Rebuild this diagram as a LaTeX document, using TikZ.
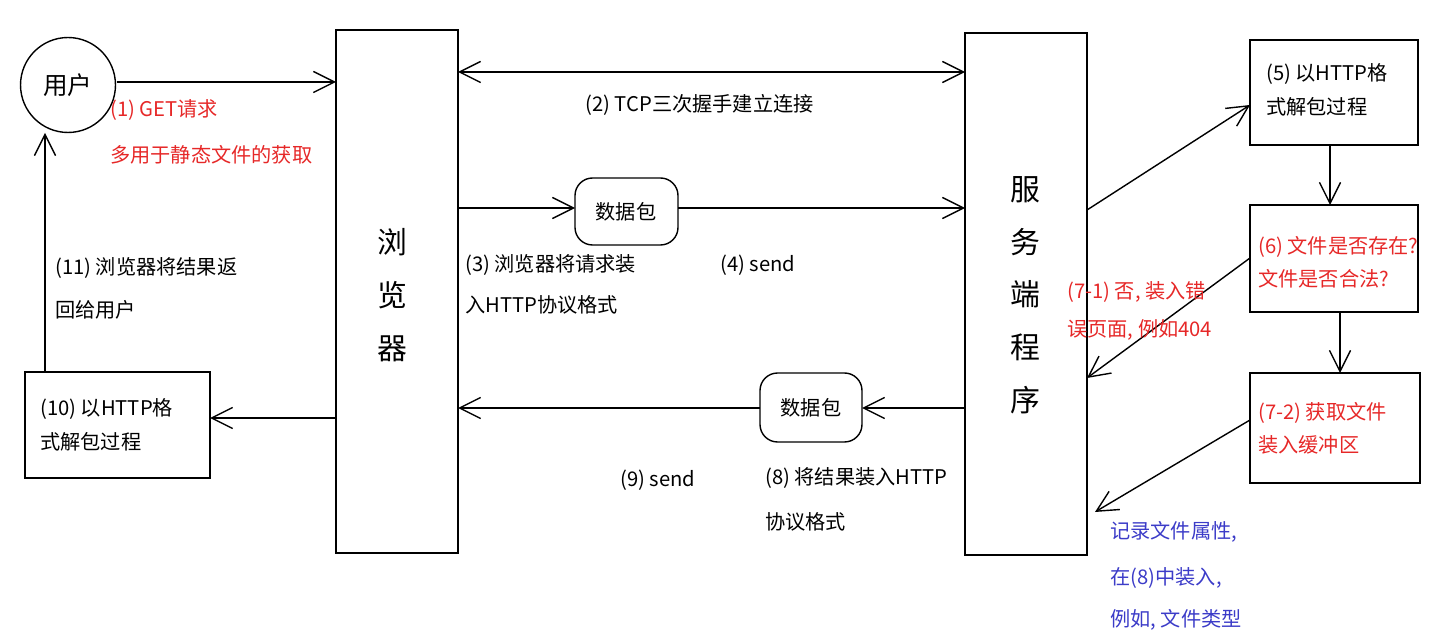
\documentclass[tikz,border=0pt]{standalone}
\usepackage{fontspec}
\setmainfont{Noto Sans CJK SC}
\usetikzlibrary{arrows.meta}
\definecolor{txtred}{RGB}{230,40,40}
\definecolor{txtblue}{RGB}{60,60,200}
\begin{document}
\begin{tikzpicture}
    [x=0.02cm, y=-0.02cm,
    every node/.style={font=\fontsize{11.5}{13}\selectfont},
    arr/.style={-{Straight Barb[length=12pt,width=12pt]}, thick},
    darr/.style={{Straight Barb[length=12pt,width=12pt]}-{Straight Barb[length=12pt,width=12pt]}, thick},
    txt/.style={anchor=west, inner sep=0pt},
    big/.style={font=\fontsize{17}{20}\selectfont}
    ]
    \useasboundingbox (0,0) rectangle (1453,641);

    % boxes
    \node[draw, thick, circle, minimum size=1.9cm, font=\fontsize{14}{16}\selectfont] (user) at (68,85) {用户};
    \draw[thick] (336,30) rectangle (458,553);
    \node[big, align=center] (brtxt) at (392,295) {浏\\[10pt]览\\[10pt]器};
    \draw[thick] (965,33) rectangle (1087,555);
    \node[big, align=center] (srv) at (1025,295) {服\\[10pt]务\\[10pt]端\\[10pt]程\\[10pt]序};
    \draw[thick] (1250,40) rectangle (1418,145);
    \node[txt, align=left] (p5) at (1266,90) {(5) 以HTTP格\\[6pt]式解包过程};
    \draw[thick] (1250,205) rectangle (1418,312);
    \node[txt, align=left, text=txtred] (p6) at (1258,262) {(6) 文件是否存在?\\[6pt]文件是否合法?};
    \draw[thick] (1250,373) rectangle (1420,483);
    \node[txt, align=left, text=txtred] (p72) at (1258,428) {(7-2) 获取文件\\[6pt]装入缓冲区};
    \draw[thick] (25,372) rectangle (210,478);
    \node[txt, align=left] (p10) at (40,425) {(10) 以HTTP格\\[6pt]式解包过程};
    \draw[thick, rounded corners=10pt] (575,178) rectangle (678,245);
    \node (pk1) at (626,212) {数据包};
    \draw[thick, rounded corners=10pt] (760,373) rectangle (862,442);
    \node (pk2) at (811,408) {数据包};

    % connectors
    \draw[arr] (117,82) -- (336,82);
    \draw[darr] (458,72) -- (965,72);
    \draw[arr] (458,208) -- (575,208);
    \draw[arr] (678,208) -- (965,208);
    \draw[arr] (965,408) -- (862,408);
    \draw[arr] (760,408) -- (458,408);
    \draw[arr] (336,418) -- (210,418);
    \draw[arr] (45,372) -- (45,133);
    \draw[arr] (1087,210) -- (1250,105);
    \draw[arr] (1330,145) -- (1330,205);
    \draw[arr] (1250,258) -- (1087,378);
    \draw[arr] (1340,312) -- (1340,373);
    \draw[arr] (1250,420) -- (1095,512);

    % labels
    \node[txt, text=txtred] at (110,110) {(1) GET请求};
    \node[txt, text=txtred] at (110,155) {多用于静态文件的获取};
    \node[txt] at (585,105) {(2) TCP三次握手建立连接};
    \node[txt] at (465,265) {(3) 浏览器将请求装};
    \node[txt] at (465,305) {入HTTP协议格式};
    \node[txt] at (720,265) {(4) send};
    \node[txt] at (55,268) {(11) 浏览器将结果返};
    \node[txt] at (55,310) {回给用户};
    \node[txt] at (620,480) {(9) send};
    \node[txt] at (765,478) {(8) 将结果装入HTTP};
    \node[txt] at (765,522) {协议格式};
    \node[txt, text=txtred] at (1067,292) {(7-1) 否, 装入错};
    \node[txt, text=txtred] at (1067,330) {误页面, 例如404};
    \node[txt, text=txtblue] at (1110,532) {记录文件属性,};
    \node[txt, text=txtblue] at (1110,578) {在(8)中装入,};
    \node[txt, text=txtblue] at (1110,620) {例如, 文件类型};
\end{tikzpicture}
\end{document}
